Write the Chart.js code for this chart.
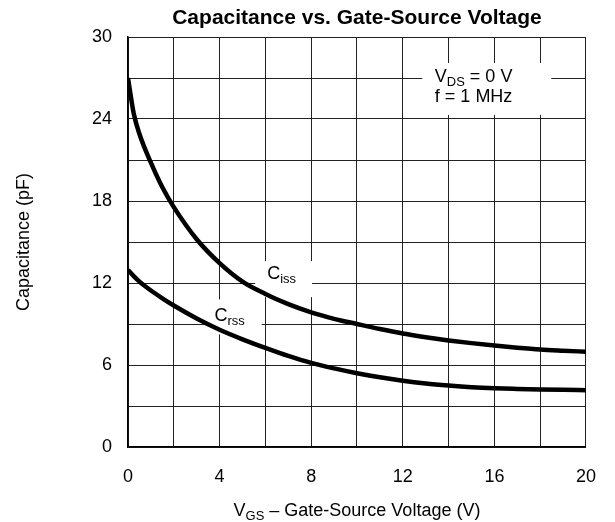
<!DOCTYPE html>
<html>
<head>
<meta charset="utf-8">
<script src="https://cdn.jsdelivr.net/npm/chart.js@4/dist/chart.umd.min.js"></script>
<style>
  body { margin: 0; background: #fff; }
  #wrap { width: 615px; height: 522px; }
</style>
</head>
<body>
<div id="wrap"><canvas id="myChartCap" width="615" height="522"></canvas></div>
<script>
// gate-source voltage (V) and capacitances (pF)
const vgsValue  = [0, 0.25, 0.5, 1, 1.5, 2, 3, 4, 5, 6, 7, 8, 9, 10, 11, 12, 13, 14, 15, 16, 17, 18, 19, 20];
const cissValue = [27, 24.4, 22.9, 20.8, 19.0, 17.55, 15.2, 13.45, 12.1, 11.2, 10.45, 9.85, 9.38, 9.0, 8.63, 8.3, 8.03, 7.8, 7.6, 7.42, 7.27, 7.14, 7.05, 6.97];
const crssValue = [12.95, 12.5, 12.1, 11.45, 10.88, 10.35, 9.4, 8.58, 7.88, 7.25, 6.66, 6.15, 5.75, 5.4, 5.1, 4.85, 4.65, 4.5, 4.38, 4.3, 4.25, 4.21, 4.18, 4.16];

const xTicks = [0, 4, 8, 12, 16, 20];
const yTicks = [0, 6, 12, 18, 24, 30];

const titleText = 'Capacitance vs. Gate-Source Voltage';
const yTitle    = 'Capacitance (pF)';

const FONT = '"Liberation Sans", Arial, sans-serif';

function puntos(xs, ys){
    return xs.map((x, i) => ({x: x, y: ys[i]}));
}

// draws a run of [text, isSubscript] pieces
function textoSub(ctx, parts, x, y, size, align){
    let total = 0;
    parts.forEach(p => {
        ctx.font = (p[1] ? size * 0.72 : size) + 'px ' + FONT;
        total += ctx.measureText(p[0]).width;
    });
    let cx = align === 'center' ? x - total / 2 : x;
    ctx.textBaseline = 'alphabetic';
    ctx.textAlign = 'left';
    parts.forEach(p => {
        ctx.font = (p[1] ? size * 0.72 : size) + 'px ' + FONT;
        ctx.fillText(p[0], cx, p[1] ? y + size * 0.22 : y);
        cx += ctx.measureText(p[0]).width;
    });
}

const textos = {
    id: 'textos',
    beforeDatasetsDraw(chart){
        const ctx = chart.ctx;
        const xs = chart.scales.x, ys = chart.scales.y;
        ctx.save();
        ctx.fillStyle = '#fff';
        // white boxes behind the labels
        ctx.fillRect(xs.getPixelForValue(5.55), ys.getPixelForValue(13.6), 57, 36);
        ctx.fillRect(xs.getPixelForValue(3.35), ys.getPixelForValue(10.8), 57, 35);
        ctx.fillRect(xs.getPixelForValue(12.85), ys.getPixelForValue(28.1), 129, 52);
        ctx.fillStyle = '#000';
        textoSub(ctx, [['C', false], ['iss', true]], xs.getPixelForValue(6.08), ys.getPixelForValue(12.3), 18, 'left');
        textoSub(ctx, [['C', false], ['rss', true]], xs.getPixelForValue(3.78), ys.getPixelForValue(9.2), 18, 'left');
        textoSub(ctx, [['V', false], ['DS', true], [' = 0 V', false]], xs.getPixelForValue(13.4), ys.getPixelForValue(26.7), 18, 'left');
        textoSub(ctx, [['f = 1 MHz', false]], xs.getPixelForValue(13.4), ys.getPixelForValue(25.25), 18, 'left');
        ctx.restore();
    },
    afterDraw(chart){
        const ctx = chart.ctx;
        const area = chart.chartArea;
        const mid = (area.left + area.right) / 2;
        ctx.save();
        ctx.fillStyle = '#000';
        ctx.font = 'bold 21px ' + FONT;
        ctx.textAlign = 'center';
        ctx.textBaseline = 'middle';
        ctx.fillText(titleText, mid, 18);
        textoSub(ctx, [['V', false], ['GS', true], [' \u2013 Gate-Source Voltage (V)', false]], mid, 516, 18, 'center');
        ctx.translate(24, (area.top + area.bottom) / 2);
        ctx.rotate(-Math.PI / 2);
        ctx.font = '18px ' + FONT;
        ctx.textAlign = 'center';
        ctx.textBaseline = 'middle';
        ctx.fillText(yTitle, 0, 0);
        ctx.restore();
    }
};

const chartCap = document.getElementById('myChartCap').getContext('2d');

let graficaCap = new Chart(chartCap, {
    type: 'line',
    data: {
        datasets: [{
            label: 'Ciss',
            data: puntos(vgsValue, cissValue),
            borderColor: '#000',
            borderWidth: 4.5,
            cubicInterpolationMode: 'monotone',
            pointRadius: 0,
            fill: false
        }, {
            label: 'Crss',
            data: puntos(vgsValue, crssValue),
            borderColor: '#000',
            borderWidth: 4.5,
            cubicInterpolationMode: 'monotone',
            pointRadius: 0,
            fill: false
        }]
    },
    options: {
        responsive: false,
        animation: false,
        events: [],
        layout: {
            padding: {left: 0, right: 27, top: 37, bottom: 0}
        },
        plugins: {
            legend: {display: false},
            tooltip: {enabled: false}
        },
        scales: {
            x: {
                type: 'linear',
                min: 0,
                max: 20,
                afterFit: scale => { scale.height = 75; },
                grid: {color: '#222', lineWidth: 1, drawTicks: false},
                border: {color: '#000', width: 1.5},
                ticks: {
                    stepSize: 2,
                    padding: 19,
                    color: '#000',
                    font: {family: FONT, size: 18},
                    maxRotation: 0,
                    callback: v => xTicks.includes(v) ? String(v) : ''
                }
            },
            y: {
                type: 'linear',
                min: 0,
                max: 30,
                afterFit: scale => { scale.width = 128; },
                grid: {color: '#222', lineWidth: 1, drawTicks: false},
                border: {color: '#000', width: 1.5},
                ticks: {
                    stepSize: 3,
                    padding: 16,
                    color: '#000',
                    font: {family: FONT, size: 18},
                    callback: v => yTicks.includes(v) ? String(v) : ''
                }
            }
        }
    },
    plugins: [textos]
});
</script>
</body>
</html>
